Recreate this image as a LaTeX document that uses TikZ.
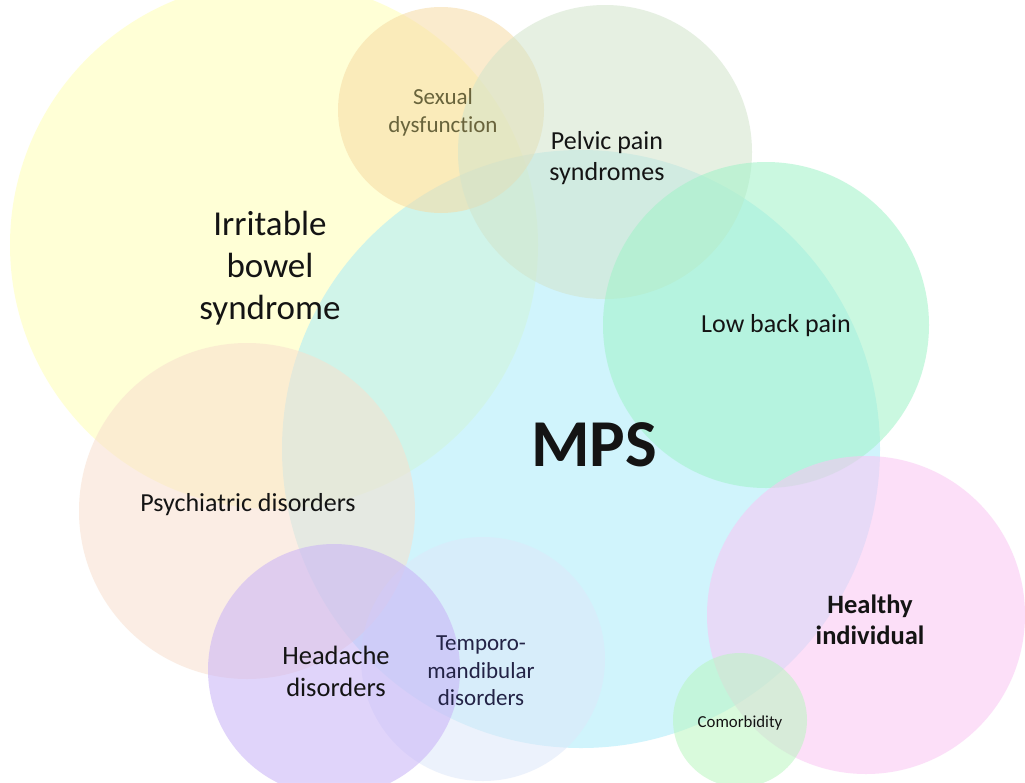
\documentclass[tikz,border=0pt]{standalone}
\usepackage{fontspec}
\setmainfont{Carlito}[Ligatures={NoCommon,NoRare}]
\definecolor{cMPS}{RGB}{170,235,250}
\definecolor{cIBS}{RGB}{255,255,182}
\definecolor{cSex}{RGB}{246,219,164}
\definecolor{cPel}{RGB}{210,228,203}
\definecolor{cLow}{RGB}{160,243,200}
\definecolor{cPsy}{RGB}{248,224,206}
\definecolor{cHea}{RGB}{200,178,247}
\definecolor{cTMD}{RGB}{222,232,250}
\definecolor{cHlt}{RGB}{250,197,243}
\definecolor{cCom}{RGB}{186,246,192}
\definecolor{txtdark}{RGB}{20,20,20}
\definecolor{txtsex}{RGB}{105,100,60}
\definecolor{txttmd}{RGB}{35,35,70}
\tikzset{
  blob/.style={circle, fill opacity=0.55, inner sep=0pt, draw=none},
  lbl/.style={align=center, text=txtdark, inner sep=0pt},
}
\begin{document}
\begin{tikzpicture}[x=1pt,y=-1pt]
\useasboundingbox (0,0) rectangle (1025,782);
\clip (0,0) rectangle (1025,782);
\fill[white] (0,0) rectangle (1025,782);
\node[blob, fill=cIBS, minimum size=528pt] (ibs) at (274,245) {};
\node[blob, fill=cMPS, minimum size=598pt] (mps) at (581,449) {};
\node[blob, fill=cPsy, minimum size=336pt] (psy) at (247,511) {};
\node[blob, fill=cSex, minimum size=206pt] (sex) at (441,110) {};
\node[blob, fill=cPel, minimum size=294pt] (pel) at (605,152) {};
\node[blob, fill=cLow, minimum size=326pt] (low) at (766,325) {};
\node[blob, fill=cTMD, minimum size=244pt] (tmd) at (483,659) {};
\node[blob, fill=cHea, minimum size=252pt] (hea) at (334,670) {};
\node[blob, fill=cHlt, minimum size=318pt] (hlt) at (866,615) {};
\node[blob, fill=cCom, minimum size=134pt] (com) at (740,720) {};

\node[lbl, text=txtsex, font=\fontsize{23}{28}\selectfont] (tsex) at (443,112) {Sexual\\dysfunction};
\node[lbl, font=\fontsize{26}{31}\selectfont] (tpel) at (607,158) {Pelvic pain\\syndromes};
\node[lbl, font=\fontsize{35}{42}\selectfont] (tibs) at (270,268) {Irritable\\bowel\\syndrome};
\node[lbl, font=\fontsize{26}{30}\selectfont] (tlow) at (776,326) {Low back pain};
\node[lbl, font=\bfseries\fontsize{67}{68}\selectfont] (tmps) at (594,445) {MPS};
\node[lbl, font=\fontsize{26}{30}\selectfont] (tpsy) at (248,505) {Psychiatric disorders};
\node[lbl, font=\bfseries\fontsize{26.5}{31}\selectfont] (thlt) at (870,620) {Healthy\\individual};
\node[lbl, font=\fontsize{26.5}{32}\selectfont] (thea) at (336,671) {Headache\\disorders};
\node[lbl, text=txttmd, font=\fontsize{23}{27.5}\selectfont] (ttmd) at (481,671) {Temporo-\\mandibular\\disorders};
\node[lbl, font=\fontsize{16.8}{20}\selectfont] (tcom) at (740,723) {Comorbidity};
\end{tikzpicture}
\end{document}
